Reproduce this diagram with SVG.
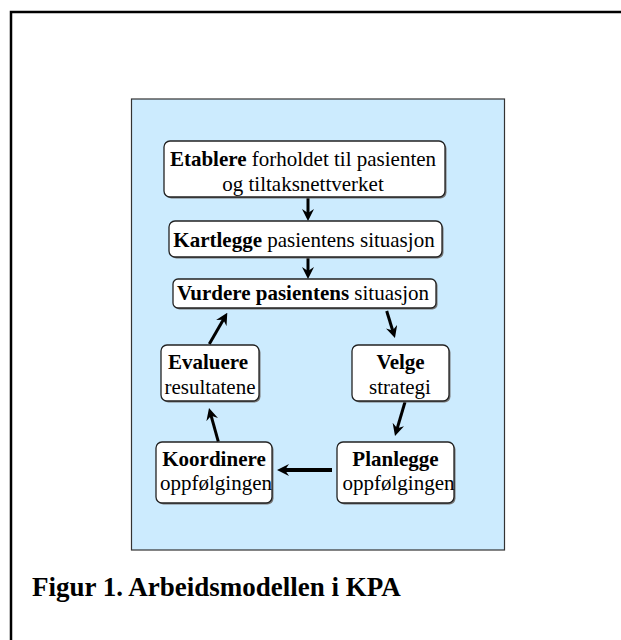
<svg xmlns="http://www.w3.org/2000/svg" width="621" height="640" viewBox="0 0 621 640">
<defs>
<style>
.t{font-family:"Liberation Serif","Times New Roman",serif;font-size:21px;fill:#000}
.b{font-weight:bold}
.box{fill:#fff;stroke:#222;stroke-width:1.3}
.sh{fill:#777}
.c{stroke:#000;stroke-width:3;fill:none;marker-end:url(#ah)}
</style>
<marker id="ah" markerWidth="12" markerHeight="12" refX="6" refY="6" orient="auto" markerUnits="userSpaceOnUse">
<path d="M0,0 L12,6 L0,12 L4,6 z" fill="#000"/>
</marker>
</defs>
<rect x="0" y="0" width="621" height="640" fill="#fff"/>
<path d="M11,640 V12 H621" fill="none" stroke="#000" stroke-width="2.5"/>
<rect x="131.5" y="99" width="373" height="451" fill="#CCEBFE" stroke="#333" stroke-width="1.2"/>

<g id="connectors">
<line class="c" x1="308" y1="197" x2="308" y2="215"/>
<line class="c" x1="308" y1="257" x2="308" y2="273"/>
<line class="c" x1="386.7" y1="311" x2="393.2" y2="332.3"/>
<line class="c" x1="405" y1="402" x2="396.7" y2="430.2"/>
<line class="c" x1="332" y1="470" x2="283" y2="470" style="stroke-width:4"/>
<line class="c" x1="218.3" y1="441.7" x2="210.6" y2="413.8"/>
<line class="c" x1="209.3" y1="344" x2="224.3" y2="317.9"/>
</g>

<g id="etablere">
<rect class="sh" x="165.5" y="142.5" width="281" height="56" rx="6"/>
<rect class="box" x="164" y="141" width="281" height="56" rx="6"/>
<text class="t" x="303" y="166" text-anchor="middle"><tspan class="b">Etablere</tspan> forholdet til pasienten</text>
<text class="t" x="303" y="191" text-anchor="middle">og tiltaksnettverket</text>
</g>

<g id="kartlegge">
<rect class="sh" x="170.5" y="222.5" width="273" height="36" rx="6"/>
<rect class="box" x="169" y="221" width="273" height="36" rx="6"/>
<text class="t" x="304" y="247" text-anchor="middle"><tspan class="b">Kartlegge</tspan> pasientens situasjon</text>
</g>

<g id="vurdere">
<rect class="sh" x="174.5" y="280.5" width="263" height="29" rx="5"/>
<rect class="box" x="173" y="279" width="263" height="29" rx="5"/>
<text class="t" x="303" y="300" text-anchor="middle"><tspan class="b">Vurdere pasientens</tspan> situasjon</text>
</g>

<g id="evaluere">
<rect class="sh" x="162.5" y="346.5" width="98" height="56" rx="6"/>
<rect class="box" x="161" y="345" width="98" height="56" rx="6"/>
<text class="t b" x="208" y="369" text-anchor="middle">Evaluere</text>
<text class="t" x="210" y="394" text-anchor="middle">resultatene</text>
</g>

<g id="velge">
<rect class="sh" x="353.5" y="346.5" width="97" height="56" rx="6"/>
<rect class="box" x="352" y="345" width="97" height="56" rx="6"/>
<text class="t b" x="400.5" y="369" text-anchor="middle">Velge</text>
<text class="t" x="400" y="394" text-anchor="middle">strategi</text>
</g>

<g id="koordinere">
<rect class="sh" x="157.5" y="443.5" width="116" height="61" rx="6"/>
<rect class="box" x="156" y="442" width="116" height="61" rx="6"/>
<text class="t b" x="214" y="466" text-anchor="middle">Koordinere</text>
<text class="t" x="216" y="490" text-anchor="middle">oppfølgingen</text>
</g>

<g id="planlegge">
<rect class="sh" x="338.5" y="443.5" width="117" height="61" rx="6"/>
<rect class="box" x="337" y="442" width="117" height="61" rx="6"/>
<text class="t b" x="395.5" y="466" text-anchor="middle">Planlegge</text>
<text class="t" x="398.5" y="490" text-anchor="middle">oppfølgingen</text>
</g>

<text x="32" y="596" style="font-family:'Liberation Serif','Times New Roman',serif;font-size:27px;font-weight:bold;fill:#000">Figur 1. Arbeidsmodellen i KPA</text>
</svg>
